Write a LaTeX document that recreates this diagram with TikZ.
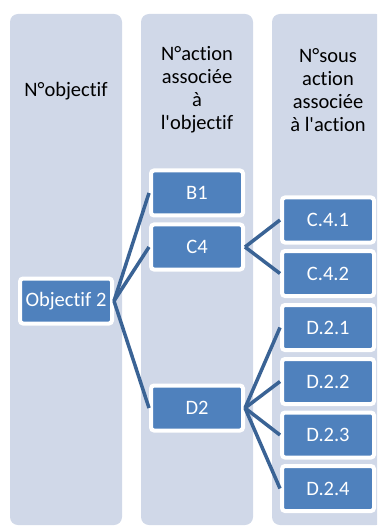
\documentclass[tikz,border=0pt]{standalone}
\usepackage{fontspec}
\setmainfont{Carlito}[Ligatures={TeXOff,CommonOff}]
\definecolor{colfond}{HTML}{D0D8E8}
\definecolor{boitebleu}{HTML}{4F81BD}
\definecolor{lienbleu}{HTML}{3A6395}

\begin{document}
\begin{tikzpicture}[x=1pt, y=-1pt,
    colonne/.style={fill=colfond, rounded corners=8pt, minimum width=112pt, minimum height=511pt, inner sep=0pt},
    boite/.style={fill=boitebleu, draw=white, line width=4pt, rounded corners=3pt, minimum width=92pt, minimum height=45pt, inner sep=0pt, text=white, font=\fontsize{20.5}{23}\selectfont},
    entete/.style={align=center, font=\fontsize{20.5}{23}\selectfont, text=black},
    lien/.style={draw=lienbleu, line width=3.5pt}]
    \useasboundingbox (0,0) rectangle (377,526);
    \clip (0,0) rectangle (377,526);

    % Colonnes de fond
    \node[colonne] (colobj) at (66,269.5) {};
    \node[colonne] (colact) at (197,269.5) {};
    \node[colonne] (colsous) at (328,269.5) {};

    % En-tetes
    \node[entete] (hobj) at (66,91) {N°objectif};
    \node[entete] (hact) at (197,90) {N°action\\associée\\à\\l'objectif};
    \node[entete] (hsous) at (328,90) {N°sous\\action\\associée\\à l'action};

    % Objectif et actions
    \node[boite] (obj) at (66,301) {Objectif 2};
    \node[boite] (b1) at (197,193) {B1};
    \node[boite] (c4) at (197,247) {C4};
    \node[boite] (d2) at (197,408) {D2};

    % Sous actions
    \foreach \nom/\texte/\y in {c41/C.4.1/220, c42/C.4.2/273.5, d21/D.2.1/327.5, d22/D.2.2/381.5, d23/D.2.3/435, d24/D.2.4/488.5} {
        \node[boite] (\nom) at (328,\y) {\texte};
    }

    % Liens
    \foreach \a in {b1,c4,d2} {
        \draw[lien] (obj.east) -- (\a.west);
    }
    \foreach \a in {c41,c42} {
        \draw[lien] (c4.east) -- (\a.west);
    }
    \foreach \a in {d21,d22,d23,d24} {
        \draw[lien] (d2.east) -- (\a.west);
    }
\end{tikzpicture}
\end{document}
